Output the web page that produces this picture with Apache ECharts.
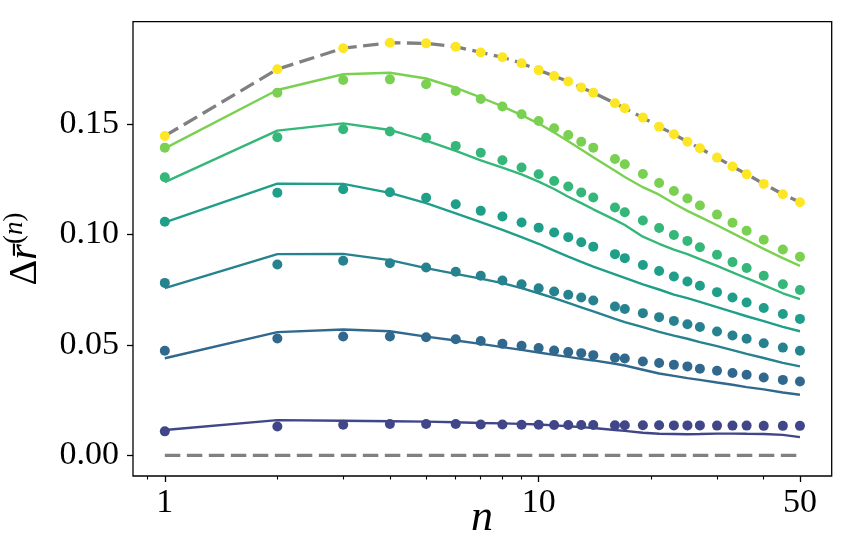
<!DOCTYPE html>
<html><head><meta charset="utf-8">
<script src="https://cdn.jsdelivr.net/npm/echarts@6/dist/echarts.min.js"></script>
<style>html,body{margin:0;padding:0;background:#fff}#c{width:854px;height:557px}</style>
</head><body><div id="c"></div>
<script>
// ---- data ----
const nValues = [1,2,3,4,5,6,7,8,9,10,11,12,13,14,16,17,19,21,23,25,27,30,33,36,40,45,50];
const xMajorTicks = [1, 10, 50];
const xMinorTicks = [0.9,2,3,4,5,6,7,8,9,20,30,40];
const yTicks = [0, 0.05, 0.10, 0.15];

// scatter values (bottom to top)
const dots1 = [0.0109,0.0131,0.0139,0.0142,0.0142,0.0142,0.0140,0.0140,0.0139,0.0139,0.0138,0.0138,0.0138,0.0138,0.0137,0.0137,0.0137,0.0137,0.0136,0.0136,0.0136,0.0135,0.0135,0.0135,0.0134,0.0134,0.0134];
const dots2 = [0.0474,0.0529,0.0538,0.0538,0.0535,0.0526,0.0518,0.0505,0.0496,0.0486,0.0475,0.0468,0.0463,0.0454,0.0442,0.0439,0.0425,0.0418,0.0410,0.0403,0.0392,0.0383,0.0373,0.0365,0.0353,0.0342,0.0335];
const dots3 = [0.0781,0.0864,0.0881,0.0870,0.0851,0.0831,0.0813,0.0792,0.0775,0.0757,0.0742,0.0727,0.0715,0.0701,0.0674,0.0663,0.0644,0.0626,0.0609,0.0594,0.0581,0.0561,0.0543,0.0528,0.0508,0.0488,0.0474];
const dots4 = [0.1058,0.1189,0.1205,0.1191,0.1166,0.1137,0.1107,0.1081,0.1054,0.1031,0.1009,0.0988,0.0965,0.0945,0.0911,0.0893,0.0862,0.0835,0.0810,0.0787,0.0768,0.0739,0.0715,0.0692,0.0667,0.0640,0.0618];
const dots5 = [0.1259,0.1440,0.1476,0.1466,0.1438,0.1401,0.1370,0.1336,0.1303,0.1273,0.1242,0.1217,0.1190,0.1167,0.1122,0.1101,0.1063,0.1029,0.0998,0.0971,0.0942,0.0908,0.0875,0.0848,0.0813,0.0775,0.0749];
const dots6 = [0.1393,0.1642,0.1699,0.1702,0.1680,0.1649,0.1613,0.1579,0.1544,0.1514,0.1481,0.1450,0.1420,0.1393,0.1342,0.1318,0.1274,0.1233,0.1197,0.1163,0.1131,0.1090,0.1053,0.1017,0.0976,0.0932,0.0899];
const dots7 = [0.1446,0.1748,0.1843,0.1868,0.1865,0.1850,0.1824,0.1802,0.1775,0.1744,0.1717,0.1692,0.1665,0.1642,0.1594,0.1571,0.1529,0.1488,0.1454,0.1420,0.1390,0.1348,0.1308,0.1273,0.1229,0.1182,0.1146];

// line values (bottom to top)
const line1 = [0.0115,0.0160,0.0157,0.0155,0.0153,0.0150,0.0147,0.0145,0.0143,0.0140,0.0136,0.0132,0.0128,0.0124,0.0115,0.0111,0.0103,0.0098,0.0097,0.0096,0.0097,0.0099,0.0099,0.0098,0.0097,0.0093,0.0083];
const line2 = [0.0440,0.0558,0.0570,0.0562,0.0538,0.0520,0.0505,0.0490,0.0478,0.0466,0.0455,0.0446,0.0437,0.0430,0.0415,0.0407,0.0388,0.0371,0.0360,0.0350,0.0342,0.0330,0.0320,0.0309,0.0299,0.0285,0.0275];
const line3 = [0.0757,0.0911,0.0912,0.0884,0.0848,0.0822,0.0800,0.0780,0.0757,0.0734,0.0712,0.0690,0.0670,0.0652,0.0618,0.0603,0.0581,0.0559,0.0542,0.0528,0.0513,0.0495,0.0477,0.0460,0.0441,0.0419,0.0403];
const line4 = [0.1055,0.1230,0.1229,0.1188,0.1142,0.1096,0.1056,0.1021,0.0988,0.0958,0.0927,0.0900,0.0876,0.0855,0.0820,0.0804,0.0774,0.0751,0.0728,0.0712,0.0695,0.0671,0.0650,0.0630,0.0608,0.0582,0.0562];
const line5 = [0.1237,0.1470,0.1503,0.1473,0.1425,0.1378,0.1335,0.1303,0.1272,0.1239,0.1206,0.1171,0.1142,0.1114,0.1066,0.1043,0.0990,0.0958,0.0932,0.0911,0.0888,0.0858,0.0829,0.0802,0.0771,0.0734,0.0707];
const line6 = [0.1390,0.1654,0.1725,0.1732,0.1706,0.1664,0.1620,0.1580,0.1540,0.1502,0.1462,0.1422,0.1385,0.1350,0.1288,0.1260,0.1214,0.1180,0.1140,0.1107,0.1080,0.1042,0.1006,0.0974,0.0935,0.0893,0.0858];

// zero reference line
const zeroN = [1, 50];
const zeroV = [0, 0];

const colors = ['#404688','#31688e','#26828e','#1f9e89','#35b779','#7ad151','#fde725'];
const dotSets = [dots1,dots2,dots3,dots4,dots5,dots6,dots7];
const lineSets = [line1,line2,line3,line4,line5,line6];

// ---- chart ----
const pair = (xs, ys) => xs.map((x, i) => [x, ys[i]]);
const FONT = 'Liberation Serif';
const series = [];
series.push({type:'line', data: pair(zeroN, zeroV), symbol:'none', z:2,
  lineStyle:{color:'#808080', width:3.3, type:[15.5,6.5]}});
series.push({type:'line', data: pair(nValues, dots7), symbol:'none', z:2,
  lineStyle:{color:'#808080', width:3.3, type:[15.5,6.5]}});
lineSets.forEach((v, i) => series.push({type:'line', data: pair(nValues, v), symbol:'none', z:2,
  lineStyle:{color: colors[i], width:2.4}}));
dotSets.forEach((v, i) => series.push({type:'scatter', data: pair(nValues, v), symbolSize:10, z:3,
  itemStyle:{color: colors[i], opacity:1}}));

const chart = echarts.init(document.getElementById('c'), null, {renderer:'canvas'});
chart.setOption({
  animation:false,
  backgroundColor:'#fff',
  grid:{left:133, right:22.3, top:21.7, bottom:81, show:true, borderColor:'#000', borderWidth:1.3,
        backgroundColor:'transparent', outerBoundsMode:'none'},
  xAxis:[{
    type:'log', logBase:10, min:0.822, max:60.8, position:'bottom',
    axisLine:{show:false, onZero:false},
    axisTick:{show:true, customValues:xMajorTicks, length:6, lineStyle:{color:'#000', width:1.3}},
    axisLabel:{show:true, customValues:xMajorTicks, formatter:(v)=>String(Math.round(v)),
      fontFamily:FONT, fontSize:34, color:'#000', margin:10},
    splitLine:{show:false}
  },{
    type:'log', logBase:10, min:0.822, max:60.8, position:'bottom',
    axisLine:{show:false, onZero:false},
    axisTick:{show:true, customValues:xMinorTicks, length:3.5, lineStyle:{color:'#000', width:1.1}},
    axisLabel:{show:false}, splitLine:{show:false}
  }],
  yAxis:{
    type:'value', min:-0.0093, max:0.1963,
    axisLine:{show:false, onZero:false},
    axisTick:{show:true, customValues:yTicks, length:6, lineStyle:{color:'#000', width:1.3}},
    axisLabel:{show:true, customValues:yTicks, formatter:(v)=>v.toFixed(2),
      fontFamily:FONT, fontSize:34, color:'#000', margin:14},
    splitLine:{show:false}
  },
  graphic:[{
    type:'text', x:482, y:518,
    style:{text:'n', fontFamily:FONT, fontStyle:'italic', fontSize:44, fill:'#000',
      align:'center', verticalAlign:'middle'}
  },{
    type:'text', x:23, y:249, rotation:Math.PI/2,
    style:{
      text:'{a|Δ}{b|r\u0304}{c|(}{d|n}{c|)}',
      align:'center', verticalAlign:'middle',
      rich:{
        a:{fontFamily:FONT, fontSize:40, fill:'#000', lineHeight:44, verticalAlign:'bottom'},
        b:{fontFamily:FONT, fontStyle:'italic', fontSize:40, fill:'#000', lineHeight:44, verticalAlign:'bottom'},
        c:{fontFamily:FONT, fontSize:27, fill:'#000', lineHeight:30, verticalAlign:'top'},
        d:{fontFamily:FONT, fontStyle:'italic', fontSize:27, fill:'#000', lineHeight:30, verticalAlign:'top'}
      }
    }
  }],
  series: series
});
</script>
</body></html>
